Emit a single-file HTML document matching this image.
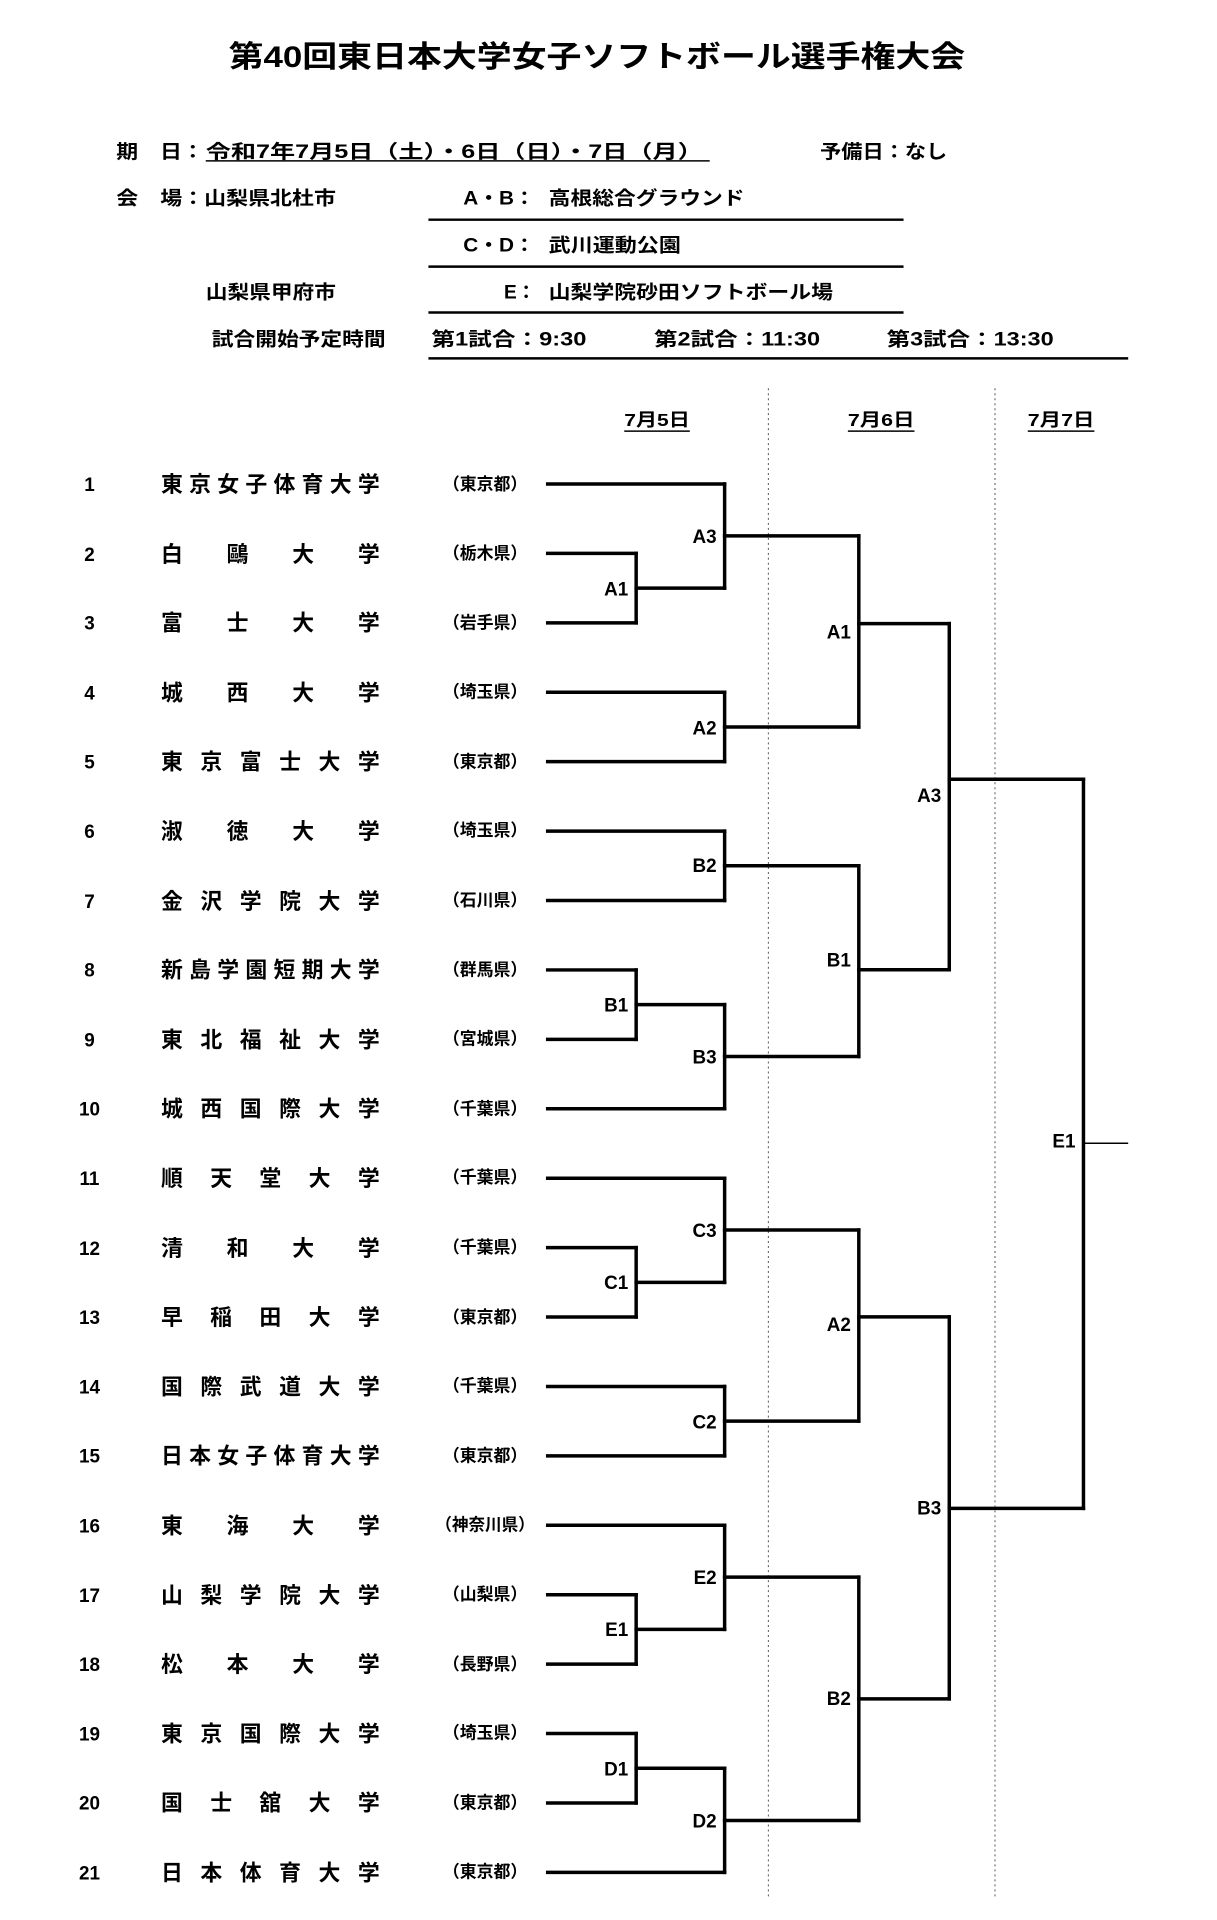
<!DOCTYPE html>
<html><head><meta charset="utf-8"><style>
html,body{margin:0;padding:0;background:#fff;}
svg{display:block;}
text{font-family:"Liberation Sans","Noto Sans CJK JP",sans-serif;font-weight:bold;fill:#000;}
</style></head><body>
<svg width="1217" height="1920" viewBox="0 0 1217 1920" xmlns="http://www.w3.org/2000/svg">
<g transform="matrix(0.994,0,0,0.9974,0,1.26)">
<text x="230" y="66" font-size="30" textLength="741" lengthAdjust="spacingAndGlyphs">第40回東日本大学女子ソフトボール選手権大会</text>

<g font-size="19">
<text x="117" y="157" textLength="88" lengthAdjust="spacingAndGlyphs">期　日：</text>
<text x="207" y="157" textLength="500" lengthAdjust="spacingAndGlyphs">令和7年7月5日（土）・6日（日）・7日（月）</text>
<text x="825" y="157" textLength="128" lengthAdjust="spacingAndGlyphs">予備日：なし</text>
<text x="117" y="204" textLength="221" lengthAdjust="spacingAndGlyphs">会　場：山梨県北杜市</text>
<text x="466" y="204" textLength="72" lengthAdjust="spacingAndGlyphs">A・B：</text>
<text x="552" y="204" textLength="197" lengthAdjust="spacingAndGlyphs">高根総合グラウンド</text>
<text x="466" y="251" textLength="72" lengthAdjust="spacingAndGlyphs">C・D：</text>
<text x="552" y="251" textLength="133" lengthAdjust="spacingAndGlyphs">武川運動公園</text>
<text x="207" y="298" textLength="131" lengthAdjust="spacingAndGlyphs">山梨県甲府市</text>
<text x="507" y="298" textLength="32" lengthAdjust="spacingAndGlyphs">E：</text>
<text x="552" y="298" textLength="286" lengthAdjust="spacingAndGlyphs">山梨学院砂田ソフトボール場</text>
<text x="213" y="345" textLength="175" lengthAdjust="spacingAndGlyphs">試合開始予定時間</text>
<text x="434" y="345" textLength="156" lengthAdjust="spacingAndGlyphs">第1試合：9:30</text>
<text x="658" y="345" textLength="167" lengthAdjust="spacingAndGlyphs">第2試合：11:30</text>
<text x="892" y="345" textLength="168" lengthAdjust="spacingAndGlyphs">第3試合：13:30</text>
</g>
<g stroke="#000" fill="none">
<line x1="207" y1="160" x2="714" y2="160" stroke-width="1.5"/>
<line x1="431" y1="219" x2="909" y2="219" stroke-width="2.5"/>
<line x1="431" y1="266" x2="909" y2="266" stroke-width="2.5"/>
<line x1="431" y1="312" x2="909" y2="312" stroke-width="2.5"/>
<line x1="431" y1="358" x2="1135" y2="358" stroke-width="2.5"/>
<line x1="773" y1="388" x2="773" y2="1900" stroke="#555" stroke-width="1" stroke-dasharray="2,3"/>
<line x1="1001" y1="388" x2="1001" y2="1900" stroke="#555" stroke-width="1" stroke-dasharray="2,3"/>
<line x1="628" y1="431" x2="694" y2="431" stroke-width="1.5"/>
<line x1="853" y1="431" x2="920" y2="431" stroke-width="1.5"/>
<line x1="1034" y1="431" x2="1101" y2="431" stroke-width="1.5"/>
</g>
<g font-size="18">
<text x="628" y="426" textLength="66" lengthAdjust="spacingAndGlyphs">7月5日</text>
<text x="853" y="426" textLength="67" lengthAdjust="spacingAndGlyphs">7月6日</text>
<text x="1034" y="426" textLength="67" lengthAdjust="spacingAndGlyphs">7月7日</text>
</g>

<g font-size="19" text-anchor="middle">
<text x="90" y="491">1</text><text x="90" y="561">2</text><text x="90" y="630">3</text><text x="90" y="700">4</text><text x="90" y="769">5</text><text x="90" y="839">6</text><text x="90" y="909">7</text><text x="90" y="978">8</text><text x="90" y="1048">9</text><text x="90" y="1117">10</text><text x="90" y="1187">11</text><text x="90" y="1257">12</text><text x="90" y="1326">13</text><text x="90" y="1396">14</text><text x="90" y="1465">15</text><text x="90" y="1535">16</text><text x="90" y="1605">17</text><text x="90" y="1674">18</text><text x="90" y="1744">19</text><text x="90" y="1813">20</text><text x="90" y="1883">21</text>
</g>
<g font-size="22">
<text x="162" y="492" textLength="220" lengthAdjust="spacing">東京女子体育大学</text>
<text y="562"><tspan x="162">白</tspan><tspan x="228">鷗</tspan><tspan x="294">大</tspan><tspan x="360">学</tspan></text>
<text y="631"><tspan x="162">富</tspan><tspan x="228">士</tspan><tspan x="294">大</tspan><tspan x="360">学</tspan></text>
<text y="701"><tspan x="162">城</tspan><tspan x="228">西</tspan><tspan x="294">大</tspan><tspan x="360">学</tspan></text>
<text y="770"><tspan x="162">東</tspan><tspan x="201.6">京</tspan><tspan x="241.2">富</tspan><tspan x="280.8">士</tspan><tspan x="320.4">大</tspan><tspan x="360">学</tspan></text>
<text y="840"><tspan x="162">淑</tspan><tspan x="228">徳</tspan><tspan x="294">大</tspan><tspan x="360">学</tspan></text>
<text y="910"><tspan x="162">金</tspan><tspan x="201.6">沢</tspan><tspan x="241.2">学</tspan><tspan x="280.8">院</tspan><tspan x="320.4">大</tspan><tspan x="360">学</tspan></text>
<text x="162" y="979" textLength="220" lengthAdjust="spacing">新島学園短期大学</text>
<text y="1049"><tspan x="162">東</tspan><tspan x="201.6">北</tspan><tspan x="241.2">福</tspan><tspan x="280.8">祉</tspan><tspan x="320.4">大</tspan><tspan x="360">学</tspan></text>
<text y="1118"><tspan x="162">城</tspan><tspan x="201.6">西</tspan><tspan x="241.2">国</tspan><tspan x="280.8">際</tspan><tspan x="320.4">大</tspan><tspan x="360">学</tspan></text>
<text y="1188"><tspan x="162">順</tspan><tspan x="211.5">天</tspan><tspan x="261">堂</tspan><tspan x="310.5">大</tspan><tspan x="360">学</tspan></text>
<text y="1258"><tspan x="162">清</tspan><tspan x="228">和</tspan><tspan x="294">大</tspan><tspan x="360">学</tspan></text>
<text y="1327"><tspan x="162">早</tspan><tspan x="211.5">稲</tspan><tspan x="261">田</tspan><tspan x="310.5">大</tspan><tspan x="360">学</tspan></text>
<text y="1397"><tspan x="162">国</tspan><tspan x="201.6">際</tspan><tspan x="241.2">武</tspan><tspan x="280.8">道</tspan><tspan x="320.4">大</tspan><tspan x="360">学</tspan></text>
<text x="162" y="1466" textLength="220" lengthAdjust="spacing">日本女子体育大学</text>
<text y="1536"><tspan x="162">東</tspan><tspan x="228">海</tspan><tspan x="294">大</tspan><tspan x="360">学</tspan></text>
<text y="1606"><tspan x="162">山</tspan><tspan x="201.6">梨</tspan><tspan x="241.2">学</tspan><tspan x="280.8">院</tspan><tspan x="320.4">大</tspan><tspan x="360">学</tspan></text>
<text y="1675"><tspan x="162">松</tspan><tspan x="228">本</tspan><tspan x="294">大</tspan><tspan x="360">学</tspan></text>
<text y="1745"><tspan x="162">東</tspan><tspan x="201.6">京</tspan><tspan x="241.2">国</tspan><tspan x="280.8">際</tspan><tspan x="320.4">大</tspan><tspan x="360">学</tspan></text>
<text y="1814"><tspan x="162">国</tspan><tspan x="211.5">士</tspan><tspan x="261">舘</tspan><tspan x="310.5">大</tspan><tspan x="360">学</tspan></text>
<text y="1884"><tspan x="162">日</tspan><tspan x="201.6">本</tspan><tspan x="241.2">体</tspan><tspan x="280.8">育</tspan><tspan x="320.4">大</tspan><tspan x="360">学</tspan></text>
</g>
<g font-size="17" text-anchor="middle">
<text x="488" y="490">（東京都）</text><text x="488" y="559">（栃木県）</text><text x="488" y="629">（岩手県）</text><text x="488" y="698">（埼玉県）</text><text x="488" y="768">（東京都）</text><text x="488" y="837">（埼玉県）</text><text x="488" y="907">（石川県）</text><text x="488" y="977">（群馬県）</text><text x="488" y="1046">（宮城県）</text><text x="488" y="1116">（千葉県）</text><text x="488" y="1185">（千葉県）</text><text x="488" y="1255">（千葉県）</text><text x="488" y="1325">（東京都）</text><text x="488" y="1394">（千葉県）</text><text x="488" y="1464">（東京都）</text><text x="488" y="1533" textLength="100" lengthAdjust="spacingAndGlyphs">（神奈川県）</text><text x="488" y="1603">（山梨県）</text><text x="488" y="1673">（長野県）</text><text x="488" y="1742">（埼玉県）</text><text x="488" y="1812">（東京都）</text><text x="488" y="1881">（東京都）</text>
</g>

<g stroke="#000" stroke-width="3.5" fill="none" stroke-linecap="square">
<path d="M551 484H729 M551 553.6H640 M551 623.2H640 M551 692.8H729 M551 762.4H729 M551 832H729 M551 901.6H729 M551 971.2H640 M551 1040.8H640 M551 1110.4H729 M551 1180H729 M551 1249.6H640 M551 1319.2H640 M551 1388.8H729 M551 1458.4H729 M551 1528H729 M551 1597.6H640 M551 1667.2H640 M551 1736.8H640 M551 1806.4H640 M551 1876H729"/>
<path d="M640 553.6V623.2 M640 971.2V1040.8 M640 1249.6V1319.2 M640 1597.6V1667.2 M640 1736.8V1806.4"/>
<path d="M640 588.4H729 M640 1006H729 M640 1284.4H729 M640 1632.4H729 M640 1771.6H729"/>
<path d="M729 484V588.4 M729 692.8V762.4 M729 832V901.6 M729 1006V1110.4 M729 1180V1284.4 M729 1388.8V1458.4 M729 1528V1632.4 M729 1771.6V1876"/>
<path d="M729 536H864 M729 727.6H864 M729 866.8H864 M729 1058H864 M729 1232H864 M729 1423.6H864 M729 1580H864 M729 1824H864"/>
<path d="M864 536V727.6 M864 866.8V1058 M864 1232V1423.6 M864 1580V1824"/>
<path d="M864 624H955 M864 971H955 M864 1319H955 M864 1702H955"/>
<path d="M955 624V971 M955 1319V1702"/>
<path d="M955 780H1090 M955 1511H1090"/>
<path d="M1090 780V1511"/>
</g>
<line x1="1090" y1="1145" x2="1135" y2="1145" stroke="#000" stroke-width="1.5"/>

<g font-size="19" text-anchor="end">
<text x="632" y="596">A1</text><text x="632" y="1013">B1</text><text x="632" y="1291">C1</text><text x="632" y="1639">E1</text><text x="632" y="1779">D1</text>
<text x="721" y="543">A3</text><text x="721" y="735">A2</text><text x="721" y="873">B2</text><text x="721" y="1065">B3</text><text x="721" y="1239">C3</text><text x="721" y="1431">C2</text><text x="721" y="1587">E2</text><text x="721" y="1831">D2</text>
<text x="856" y="639">A1</text><text x="856" y="968">B1</text><text x="856" y="1333">A2</text><text x="856" y="1708">B2</text>
<text x="947" y="803">A3</text><text x="947" y="1517">B3</text>
<text x="1082" y="1149">E1</text>
</g>
</g>
</svg>
</body></html>
